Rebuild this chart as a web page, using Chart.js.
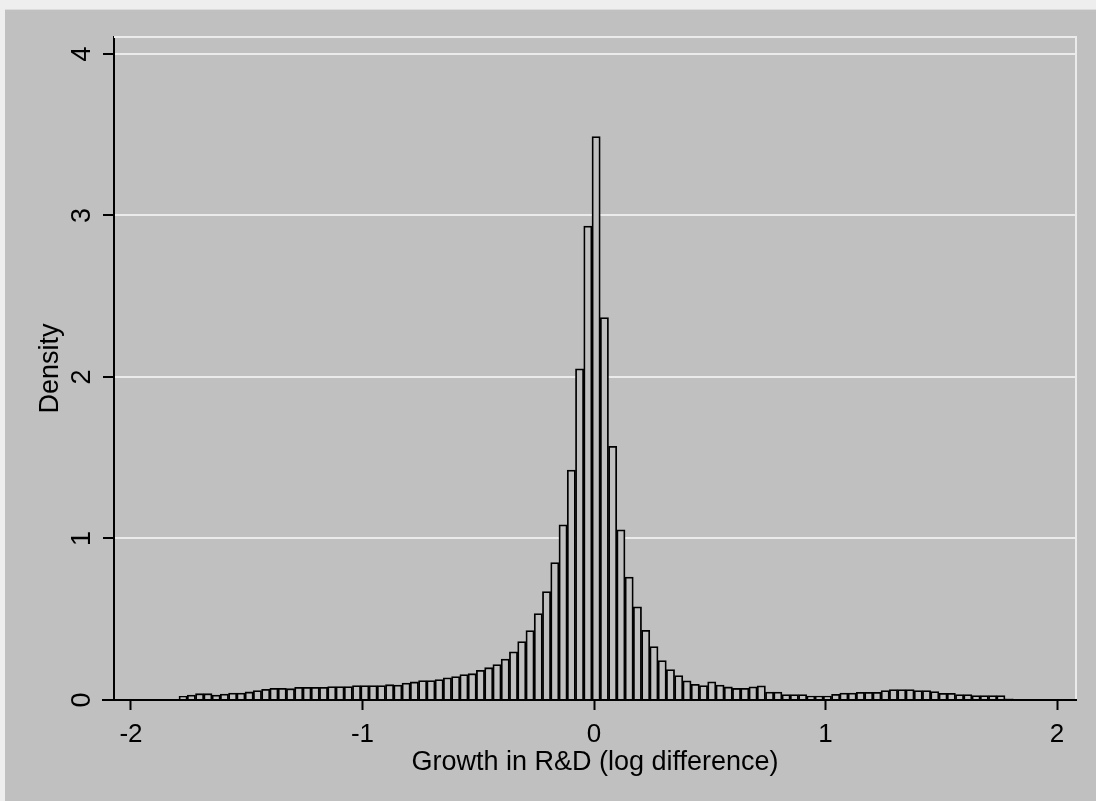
<!DOCTYPE html>
<html>
<head>
<meta charset="utf-8">
<title>Growth in R&amp;D histogram</title>
<script src="https://cdn.jsdelivr.net/npm/chart.js@4.4.1/dist/chart.umd.min.js"></script>
<style>
  html, body { margin: 0; padding: 0; background: #eeeeee; }
  #wrap { width: 1096px; height: 801px; }
</style>
</head>
<body>
<div id="wrap"><canvas id="chart" width="1096" height="801"></canvas></div>
<script>
// histogram bins: first lower edge and width
const binStart = -1.7927;
const binWidth = 0.03568;

// density per bin, left to right
const density = [
  0.023, 0.031, 0.039, 0.039, 0.031, 0.037, 0.043, 0.043, 0.050, 0.058,
  0.066, 0.072, 0.072, 0.070, 0.079, 0.079, 0.079, 0.079, 0.083, 0.083,
  0.083, 0.089, 0.089, 0.089, 0.089, 0.095, 0.093, 0.105, 0.112, 0.120,
  0.120, 0.126, 0.138, 0.145, 0.157, 0.163, 0.184, 0.200, 0.219, 0.254,
  0.298, 0.362, 0.430, 0.535, 0.672, 0.851, 1.085, 1.424, 2.050, 2.934,
  3.488, 2.368, 1.571, 1.054, 0.761, 0.577, 0.432, 0.331, 0.244, 0.188,
  0.151, 0.119, 0.097, 0.090, 0.113, 0.092, 0.081, 0.072, 0.072, 0.082,
  0.088, 0.049, 0.049, 0.034, 0.034, 0.034, 0.025, 0.025, 0.025, 0.035,
  0.043, 0.043, 0.048, 0.048, 0.048, 0.058, 0.065, 0.065, 0.065, 0.058,
  0.058, 0.052, 0.041, 0.041, 0.034, 0.034, 0.028, 0.028, 0.028, 0.028,
  0.007
];

const xTicks = [-2, -1, 0, 1, 2];
const yTicks = [0, 1, 2, 3, 4];

const binCenters = density.map((_, i) => binStart + (i + 0.5) * binWidth);

Chart.defaults.font.family = "'Liberation Sans', Arial, Helvetica, sans-serif";
Chart.defaults.color = '#000';

// page backdrop, white plot-region frame and the x-axis stub
const stataLook = {
    id: 'stataLook',
    beforeDraw(chart) {
        const ctx = chart.ctx;
        ctx.save();
        ctx.fillStyle = '#eeeeee';
        ctx.fillRect(0, 0, chart.width, chart.height);
        ctx.fillStyle = '#dcdcdc';
        ctx.fillRect(5, 9, chart.width - 5, 1);
        ctx.fillStyle = '#c0c0c0';
        ctx.fillRect(5, 10, chart.width - 5, chart.height - 10);
        ctx.restore();
    },
    beforeDatasetsDraw(chart) {
        const { ctx, chartArea: a } = chart;
        ctx.save();
        ctx.strokeStyle = '#ebebeb';
        ctx.lineWidth = 2;
        ctx.beginPath();
        ctx.moveTo(a.left, a.top);
        ctx.lineTo(a.right, a.top);
        ctx.lineTo(a.right, a.bottom);
        ctx.stroke();
        ctx.restore();
    },
    afterDraw(chart) {
        const { ctx, chartArea: a } = chart;
        ctx.save();
        ctx.strokeStyle = '#000';
        ctx.lineWidth = 2;
        ctx.beginPath();
        ctx.moveTo(a.left - 12, a.bottom);
        ctx.lineTo(a.left, a.bottom);
        ctx.stroke();
        ctx.restore();
    }
};

const ctx = document.getElementById('chart').getContext('2d');
new Chart(ctx, {
    type: 'bar',
    data: {
        datasets: [{
            label: 'Density',
            data: binCenters.map((x, i) => ({ x: x, y: density[i] })),
            backgroundColor: '#c0c0c0',
            borderColor: '#000',
            borderWidth: 1.8,
            borderSkipped: 'start',
            barPercentage: 1,
            categoryPercentage: 1
        }]
    },
    options: {
        responsive: false,
        animation: false,
        devicePixelRatio: 1,
        layout: { padding: { top: 37, right: 20, left: 0, bottom: 0 } },
        plugins: {
            legend: { display: false },
            tooltip: { enabled: false }
        },
        scales: {
            x: {
                type: 'linear',
                min: -2.0734,
                max: 2.082,
                offset: false,
                afterBuildTicks: s => { s.ticks = xTicks.map(v => ({ value: v })); },
                afterFit: s => { s.height = 101; },
                grid: {
                    display: true,
                    offset: false,
                    drawOnChartArea: false,
                    drawTicks: true,
                    tickLength: 10,
                    tickColor: '#000',
                    tickWidth: 2
                },
                border: { display: true, color: '#000', width: 2, z: 1 },
                ticks: { font: { size: 26 }, padding: 9, maxRotation: 0, autoSkip: false },
                title: {
                    display: true,
                    text: 'Growth in R&D (log difference)',
                    font: { size: 27 },
                    padding: { top: 0, bottom: 22 }
                }
            },
            y: {
                min: 0,
                max: 4.105,
                afterBuildTicks: s => { s.ticks = yTicks.map(v => ({ value: v })); },
                afterFit: s => { s.width = 114; },
                grid: {
                    color: c => (c.tick && c.tick.value === 0) ? 'rgba(0,0,0,0)' : '#ebebeb',
                    lineWidth: 2,
                    tickColor: '#000',
                    tickLength: 11,
                    tickWidth: 2
                },
                border: { display: true, color: '#000', width: 2 },
                ticks: {
                    font: { size: 27 },
                    padding: 13,
                    minRotation: 90,
                    maxRotation: 90,
                    crossAlign: 'center'
                },
                title: {
                    display: true,
                    text: 'Density',
                    font: { size: 27 },
                    padding: { top: 34, bottom: 0 }
                }
            }
        }
    },
    plugins: [stataLook]
});
</script>
</body>
</html>
